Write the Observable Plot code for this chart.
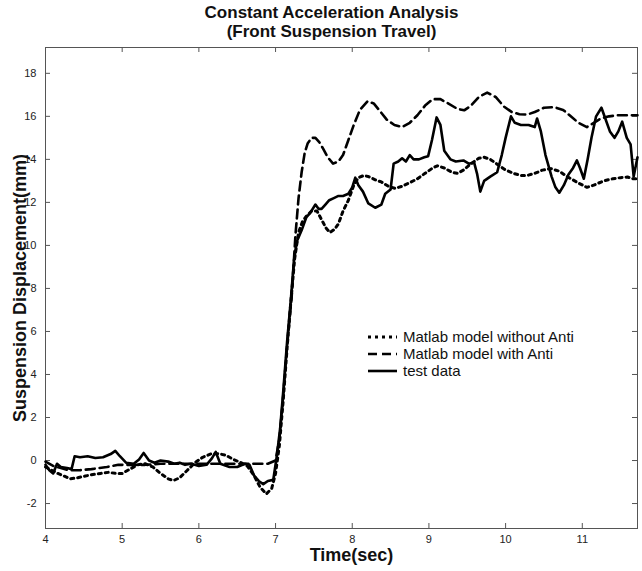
<!DOCTYPE html>
<html><head><meta charset="utf-8">
<script src="https://cdn.jsdelivr.net/npm/d3@7"></script>
<script src="https://cdn.jsdelivr.net/npm/@observablehq/plot@0.6"></script>
<style>body{margin:0;background:#fff}#chart{width:642px;height:571px}</style>
</head><body><div id="chart"></div>
<script>
const titleLines = ["Constant Acceleration Analysis", "(Front Suspension Travel)"];
const xLabel = "Time(sec)";
const yLabel = "Suspension Displacement(mm)";
const xTicks = [4, 5, 6, 7, 8, 9, 10, 11];
const yTicks = [-2, 0, 2, 4, 6, 8, 10, 12, 14, 16, 18];
const seriesNames = ["Matlab model without Anti", "Matlab model with Anti", "test data"];

// Matlab model without Anti (dotted)
const tWithout = [4.0,4.08,4.16,4.24,4.32,4.42,4.52,4.62,4.72,4.82,4.92,5.0,5.1,5.2,5.3,5.4,5.5,5.6,5.67,5.75,5.85,5.95,6.05,6.15,6.25,6.35,6.45,6.55,6.63,6.72,6.8,6.88,6.95,7.0,7.05,7.1,7.15,7.2,7.25,7.3,7.35,7.4,7.47,7.54,7.6,7.66,7.71,7.77,7.82,7.88,7.95,8.02,8.08,8.15,8.21,8.3,8.38,8.47,8.56,8.65,8.74,8.85,8.95,9.05,9.11,9.2,9.3,9.37,9.45,9.55,9.65,9.72,9.8,9.9,9.98,10.1,10.2,10.28,10.38,10.48,10.59,10.7,10.78,10.85,10.95,11.06,11.15,11.28,11.4,11.5,11.59,11.66,11.72];
const vWithout = [-0.3,-0.45,-0.6,-0.72,-0.85,-0.8,-0.72,-0.65,-0.6,-0.55,-0.6,-0.6,-0.4,-0.2,-0.15,-0.3,-0.6,-0.85,-0.93,-0.8,-0.45,-0.1,0.15,0.3,0.32,0.25,0.05,-0.1,-0.25,-0.7,-1.25,-1.55,-1.3,-0.6,0.7,2.8,5.2,7.4,9.4,10.6,11.1,11.35,11.6,11.6,11.2,10.8,10.6,10.75,11.0,11.6,12.1,12.8,13.15,13.25,13.2,13.05,12.95,12.75,12.65,12.75,12.9,13.1,13.35,13.6,13.7,13.6,13.4,13.35,13.5,13.8,14.05,14.1,14.0,13.75,13.55,13.35,13.25,13.25,13.35,13.5,13.57,13.45,13.25,13.1,12.9,12.7,12.8,13.0,13.1,13.15,13.18,13.1,13.1];

// Matlab model with Anti (dashed)
const tWith = [4.0,4.1,4.2,4.3,4.45,4.6,4.8,4.95,5.1,5.3,5.5,5.7,5.9,6.1,6.3,6.5,6.7,6.9,7.0,7.05,7.1,7.15,7.21,7.26,7.3,7.34,7.38,7.42,7.47,7.52,7.57,7.62,7.68,7.75,7.82,7.88,7.95,8.02,8.1,8.2,8.28,8.36,8.45,8.55,8.65,8.75,8.85,8.95,9.05,9.15,9.25,9.37,9.46,9.55,9.65,9.76,9.87,9.98,10.08,10.18,10.28,10.38,10.5,10.63,10.75,10.85,10.95,11.06,11.15,11.24,11.35,11.46,11.6,11.72];
const vWith = [-0.05,-0.25,-0.35,-0.45,-0.45,-0.4,-0.3,-0.2,-0.2,-0.2,-0.15,-0.15,-0.15,-0.15,-0.15,-0.15,-0.15,-0.15,0.0,1.0,3.0,5.3,7.6,10.5,12.2,13.4,14.3,14.75,15.0,15.0,14.8,14.5,14.1,13.8,13.9,14.2,14.9,15.6,16.3,16.7,16.6,16.25,15.85,15.6,15.5,15.7,16.05,16.5,16.8,16.8,16.6,16.35,16.28,16.5,16.9,17.1,16.9,16.45,16.2,16.1,16.08,16.2,16.4,16.43,16.3,16.0,15.7,15.5,15.7,15.9,16.0,16.05,16.05,16.05];

// test data (solid)
const tTest = [4.0,4.05,4.1,4.15,4.2,4.28,4.34,4.38,4.45,4.55,4.65,4.75,4.85,4.91,4.97,5.05,5.15,5.22,5.28,5.35,5.42,5.5,5.6,5.68,5.75,5.82,5.9,6.0,6.1,6.17,6.22,6.28,6.4,6.5,6.6,6.66,6.72,6.78,6.84,6.9,6.97,7.02,7.06,7.1,7.15,7.2,7.24,7.28,7.34,7.4,7.45,7.52,7.56,7.6,7.65,7.7,7.76,7.82,7.88,7.95,8.0,8.04,8.08,8.14,8.21,8.3,8.38,8.43,8.5,8.54,8.6,8.65,8.7,8.75,8.8,8.87,8.94,8.99,9.04,9.1,9.15,9.2,9.28,9.35,9.45,9.52,9.59,9.63,9.67,9.72,9.8,9.89,9.95,10.0,10.07,10.12,10.2,10.3,10.38,10.41,10.46,10.52,10.6,10.65,10.7,10.76,10.82,10.88,10.93,10.97,11.02,11.07,11.12,11.18,11.25,11.3,11.36,11.42,11.47,11.52,11.58,11.63,11.67,11.72];
const vTest = [-0.2,-0.45,-0.6,-0.15,-0.3,-0.35,-0.4,0.2,0.15,0.2,0.12,0.15,0.3,0.45,0.2,-0.1,-0.15,0.05,0.35,0.0,-0.1,0.0,-0.05,-0.15,-0.1,-0.2,-0.15,-0.25,-0.2,0.1,0.4,-0.15,-0.3,-0.3,-0.15,-0.2,-0.7,-0.95,-1.1,-0.95,-0.9,0.3,1.5,3.2,5.5,7.5,9.3,10.2,10.7,11.3,11.5,11.9,11.7,11.7,11.9,12.1,12.2,12.3,12.3,12.4,12.7,13.15,12.8,12.5,11.95,11.75,11.9,12.4,12.6,13.8,13.9,14.05,13.9,14.2,14.0,14.0,14.1,14.15,14.9,15.95,15.6,14.4,14.0,13.9,13.95,13.8,13.85,13.3,12.5,13.0,13.2,13.4,14.2,15.0,16.0,15.7,15.6,15.6,15.5,15.9,15.3,14.2,13.2,12.7,12.45,12.8,13.3,13.6,13.95,13.6,13.1,14.0,15.0,16.0,16.4,15.9,15.3,15.0,15.3,15.75,15.0,14.7,13.2,14.1];

const rows = (ts, vs, s) => ts.map((t, i) => ({t, v: vs[i], s}));
const dataWithout = rows(tWithout, vWithout, seriesNames[0]);
const dataWith = rows(tWith, vWith, seriesNames[1]);
const dataTest = rows(tTest, vTest, seriesNames[2]);

const W = 642, H = 571;
const mL = 45, mR = 5, mT = 47, mB = 43;
const innerW = W - mL - mR, innerH = H - mT - mB;
const tickLen = 5;
const frameColor = "#555";
const styles = [
  {strokeWidth: 3, strokeDasharray: "3,4"},
  {strokeWidth: 2.6, strokeDasharray: "9,5"},
  {strokeWidth: 2.6, strokeDasharray: null}
];

const chart = Plot.plot({
  width: W, height: H,
  marginLeft: mL, marginRight: mR, marginTop: mT, marginBottom: mB,
  style: {fontFamily: "'Liberation Sans', Arial, sans-serif", background: "#fff", color: "#222"},
  x: {domain: [4, 11.72], ticks: xTicks},
  y: {domain: [-3.16, 19.2], ticks: yTicks},
  marks: [
    Plot.frame({stroke: frameColor, strokeWidth: 1}),
    Plot.tickX(xTicks, {x: d => d, insetTop: innerH - tickLen, stroke: frameColor}),
    Plot.tickX(xTicks, {x: d => d, insetBottom: innerH - tickLen, stroke: frameColor}),
    Plot.tickY(yTicks, {y: d => d, insetRight: innerW - tickLen, stroke: frameColor}),
    Plot.tickY(yTicks, {y: d => d, insetLeft: innerW - tickLen, stroke: frameColor}),
    Plot.axisX({ticks: xTicks, tickSize: 0, tickPadding: 7, fontSize: 11, label: null, tickFormat: d => String(d)}),
    Plot.axisY({ticks: yTicks, tickSize: 0, tickPadding: 9, fontSize: 11, label: null, tickFormat: d => String(d)}),
    Plot.line(dataWithout, {x: "t", y: "v", stroke: "#000", ...styles[0]}),
    Plot.line(dataWith, {x: "t", y: "v", stroke: "#000", ...styles[1]}),
    Plot.line(dataTest, {x: "t", y: "v", stroke: "#000", ...styles[2], strokeLinejoin: "round"}),
    Plot.text([titleLines[0]], {frameAnchor: "top", textAnchor: "middle", dx: -10, dy: -35, fontSize: 17, fontWeight: "bold", lineAnchor: "middle", fill: "#111"}),
    Plot.text([titleLines[1]], {frameAnchor: "top", textAnchor: "middle", dx: -10, dy: -16, fontSize: 17, fontWeight: "bold", lineAnchor: "middle", fill: "#111"}),
    Plot.text([xLabel], {frameAnchor: "bottom", textAnchor: "middle", dx: 10, dy: 27, fontSize: 18, fontWeight: "bold", lineAnchor: "middle", fill: "#111"}),
    Plot.text([yLabel], {frameAnchor: "left", textAnchor: "middle", dx: -25, rotate: -90, fontSize: 18, fontWeight: "bold", lineAnchor: "middle", fill: "#111"})
  ]
});
document.getElementById("chart").appendChild(chart);

// legend inside the axes
const svg = d3.select(chart);
const lg = svg.append("g").attr("font-family", "'Liberation Sans', Arial, sans-serif").attr("font-size", 15).attr("text-anchor", "start");
seriesNames.forEach((name, i) => {
  const yy = 337 + i * 17;
  lg.append("line").attr("x1", 368).attr("x2", 397).attr("y1", yy).attr("y2", yy)
    .attr("stroke", "#000").attr("stroke-width", styles[i].strokeWidth)
    .attr("stroke-dasharray", styles[i].strokeDasharray);
  lg.append("text").attr("x", 403).attr("y", yy).attr("dy", "0.35em").attr("text-anchor", "start").attr("fill", "#111").text(name);
});
</script>
</body></html>
